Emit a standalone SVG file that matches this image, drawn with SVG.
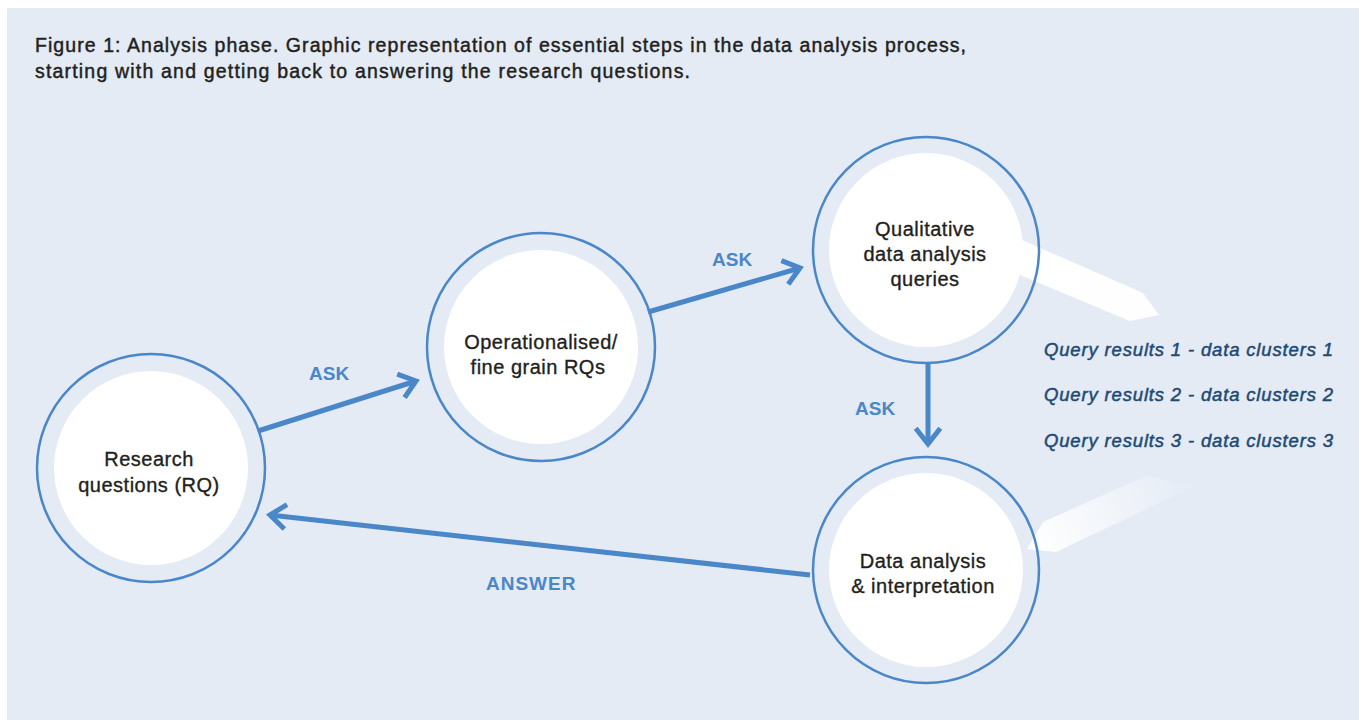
<svg xmlns="http://www.w3.org/2000/svg" width="1359" height="720" viewBox="0 0 1359 720">
<style>
.title{font-family:"Liberation Sans",Arial,sans-serif;font-size:19.5px;fill:#231f20;stroke:#231f20;stroke-width:0.45;}
.node-text{font-family:"Liberation Sans",Arial,sans-serif;font-size:20px;fill:#231f20;stroke:#231f20;stroke-width:0.35;text-anchor:middle;letter-spacing:0.5px;}
.outer{fill:none;stroke:#4a87c9;stroke-width:2.5;}
.inner{fill:#ffffff;}
.conn{stroke:#4a87c9;stroke-width:5;fill:none;}
.lbl{font-family:"Liberation Sans",Arial,sans-serif;font-size:19px;font-weight:bold;fill:#4a87c9;}
.query{font-family:"Liberation Sans",Arial,sans-serif;font-size:18.5px;font-style:italic;fill:#1f4a73;stroke:#1f4a73;stroke-width:0.5;}
</style>
<defs>
<marker id="chev" markerUnits="userSpaceOnUse" markerWidth="40" markerHeight="40" refX="0" refY="0" viewBox="-25 -20 30 40" orient="auto">
<path d="M -15.8 -12.3 L 0 0 L -15.8 12.3" fill="none" stroke="#4a87c9" stroke-width="5" stroke-linejoin="miter"/>
</marker>
<linearGradient id="beam1" x1="0" y1="0" x2="1" y2="0">
<stop offset="0" stop-color="#ffffff"/>
<stop offset="1" stop-color="#ffffff" stop-opacity="0.95"/>
</linearGradient>
<linearGradient id="beam2" gradientUnits="userSpaceOnUse" x1="1030" y1="545" x2="1195" y2="480">
<stop offset="0" stop-color="#ffffff"/>
<stop offset="1" stop-color="#ffffff" stop-opacity="0"/>
</linearGradient>
</defs>
<rect x="7" y="8" width="1352" height="712" fill="#e4ebf5"/>
<g id="caption">
<text class="title" x="35" y="52" textLength="931" lengthAdjust="spacing">Figure 1: Analysis phase. Graphic representation of essential steps in the data analysis process,</text>
<text class="title" x="35" y="78" textLength="655" lengthAdjust="spacing">starting with and getting back to answering the research questions.</text>
</g>
<g id="beams">
<polygon points="1022,240 1143,293 1159,315 1130,321 1020,275" fill="url(#beam1)"/>
<polygon points="1027,549 1043,522 1146,476 1195,486 1056,552" fill="url(#beam2)"/>
</g>
<g id="node-rq">
<circle class="outer" cx="151" cy="468" r="114"/>
<circle class="inner" cx="151" cy="468" r="97"/>
<text class="node-text" x="149" y="466">Research</text>
<text class="node-text" x="149" y="492">questions (RQ)</text>
</g>
<g id="node-op">
<circle class="outer" cx="541" cy="347" r="114"/>
<circle class="inner" cx="541" cy="347" r="97"/>
<text class="node-text" x="541" y="349">Operationalised/</text>
<text class="node-text" x="538" y="374">fine grain RQs</text>
</g>
<g id="node-qual">
<circle class="outer" cx="926" cy="250" r="113"/>
<circle class="inner" cx="926" cy="250" r="97"/>
<text class="node-text" x="925" y="236">Qualitative</text>
<text class="node-text" x="925" y="261">data analysis</text>
<text class="node-text" x="925" y="286">queries</text>
</g>
<g id="node-data">
<circle class="outer" cx="926" cy="570" r="113"/>
<circle class="inner" cx="926" cy="570" r="97"/>
<text class="node-text" x="923" y="568">Data analysis</text>
<text class="node-text" x="923" y="593">&amp; interpretation</text>
</g>
<g id="connectors">
<line class="conn" x1="258" y1="431" x2="416" y2="381" marker-end="url(#chev)"/>
<line class="conn" x1="648" y1="312" x2="800" y2="268" marker-end="url(#chev)"/>
<line class="conn" x1="928" y1="364" x2="928" y2="444" marker-end="url(#chev)"/>
<line class="conn" x1="810" y1="575" x2="270" y2="515" marker-end="url(#chev)"/>
<text class="lbl" x="309" y="380">ASK</text>
<text class="lbl" x="712" y="266">ASK</text>
<text class="lbl" x="855" y="415">ASK</text>
<text class="lbl" x="486" y="590" letter-spacing="1">ANSWER</text>
</g>
<g id="query-results">
<text class="query" x="1044" y="356" textLength="289" lengthAdjust="spacing">Query results 1 - data clusters 1</text>
<text class="query" x="1044" y="401" textLength="289" lengthAdjust="spacing">Query results 2 - data clusters 2</text>
<text class="query" x="1044" y="447" textLength="289" lengthAdjust="spacing">Query results 3 - data clusters 3</text>
</g>
</svg>
